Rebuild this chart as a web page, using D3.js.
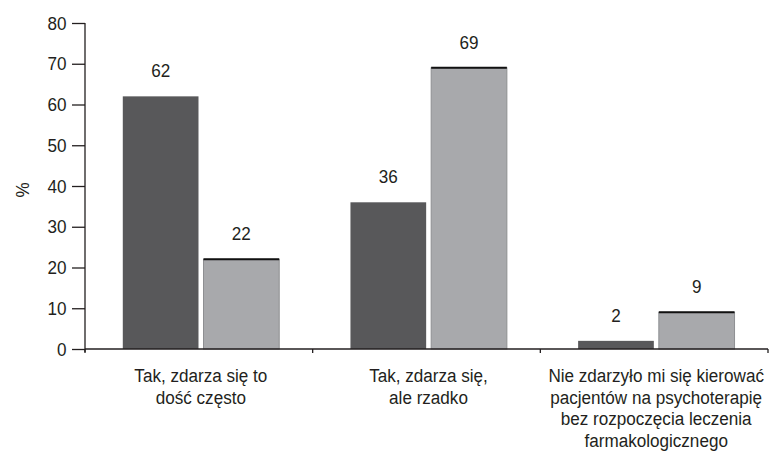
<!DOCTYPE html>
<html>
<head>
<meta charset="utf-8">
<script src="https://cdn.jsdelivr.net/npm/d3@7"></script>
<style>
  body { margin: 0; background: white; }
  svg { display: block; }
  .axis text { font-size: 19px; fill: #231f20; }
  .axis path, .axis line { stroke: #231f20; stroke-width: 1.3; }
</style>
</head>
<body>
<svg id="chart" width="774" height="455"></svg>
<script>
// Categories (x axis), each label split into lines
const categories = [
  ['Tak, zdarza się to', 'dość często'],
  ['Tak, zdarza się,', 'ale rzadko'],
  ['Nie zdarzyło mi się kierować', 'pacjentów na psychoterapię', 'bez rozpoczęcia leczenia', 'farmakologicznego']
];
const seriesDark = [62, 36, 2];
const seriesLight = [22, 69, 9];
const yTicks = [0, 10, 20, 30, 40, 50, 60, 70, 80];
const yLabel = '%';

const padding = { top: 23, right: 6, bottom: 106, left: 85 };
const width = 774 - padding.left - padding.right;
const height = 455 - padding.top - padding.bottom;
const font = "'Liberation Sans', Arial, sans-serif";
const fontSize = 19;
const squeeze = 0.9; // the original face is a little condensed
const ink = '#231f20';

const svg = d3.select('#chart').style('font-family', font);
const canvas = svg.append('g')
  .attr('transform', `translate(${padding.left}, ${padding.top})`);

// place a condensed text at (x, y)
function label(parent, x, y, anchor) {
  return parent.append('text')
    .attr('transform', `translate(${x}, ${y}) scale(${squeeze}, 1)`)
    .attr('text-anchor', anchor || 'middle')
    .style('font-size', fontSize + 'px')
    .attr('fill', ink);
}

const x = d3.scaleBand()
  .domain(d3.range(categories.length))
  .range([0, width]);

const inner = d3.scaleBand()
  .domain(['dark', 'light'])
  .range([x.bandwidth() * 0.166, x.bandwidth() * 0.853])
  .paddingInner(0.062);

const y = d3.scaleLinear().domain([0, 80]).range([height, 0]);

// y axis
const yAxis = canvas.append('g').attr('class', 'axis y')
  .call(d3.axisLeft(y).tickValues(yTicks).tickSize(13).tickFormat(d3.format('d')));
yAxis.select('.domain').attr('d', `M0,${height + 3}V0`);
yAxis.selectAll('.tick text')
  .attr('x', -18.5 / squeeze)
  .attr('transform', `scale(${squeeze}, 1)`);

// bars
const groups = canvas.selectAll('g.group')
  .data(categories.map((c, i) => ({ i, dark: seriesDark[i], light: seriesLight[i] })))
  .join('g')
  .attr('class', 'group')
  .attr('transform', d => `translate(${x(d.i)}, 0)`);

groups.append('rect')
  .attr('x', inner('dark'))
  .attr('width', inner.bandwidth())
  .attr('y', d => y(d.dark))
  .attr('height', d => height - y(d.dark))
  .attr('fill', '#58585a');

groups.append('rect')
  .attr('x', inner('light'))
  .attr('width', inner.bandwidth())
  .attr('y', d => y(d.light))
  .attr('height', d => height - y(d.light))
  .attr('fill', '#a8a9ac')
  .attr('stroke', '#8e8f92')
  .attr('stroke-width', 1);

// dark top edge on light bars
groups.append('line')
  .attr('x1', inner('light'))
  .attr('x2', inner('light') + inner.bandwidth())
  .attr('y1', d => y(d.light))
  .attr('y2', d => y(d.light))
  .attr('stroke', '#111')
  .attr('stroke-width', 2);

// value labels
groups.each(function(d) {
  const g = d3.select(this);
  label(g, inner('dark') + inner.bandwidth() / 2, y(d.dark) - 19).text(d.dark);
  label(g, inner('light') + inner.bandwidth() / 2, y(d.light) - 19).text(d.light);
});

// x axis
const xAxis = canvas.append('g').attr('class', 'axis x')
  .attr('transform', `translate(0, ${height})`);
xAxis.append('line')
  .attr('x1', 0).attr('x2', width);
xAxis.selectAll('line.tick')
  .data(d3.range(categories.length + 1))
  .join('line')
  .attr('class', 'tick')
  .attr('x1', d => d === categories.length ? width : x(d))
  .attr('x2', d => d === categories.length ? width : x(d))
  .attr('y1', 0).attr('y2', 4);

categories.forEach((lines, i) => {
  const t = label(xAxis, x(i) + x.bandwidth() / 2 + 2, 0);
  t.selectAll('tspan')
    .data(lines)
    .join('tspan')
    .attr('x', 0)
    .attr('y', (d, j) => 33 + j * 21.6)
    .text(d => d);
});

// y label
canvas.append('text')
  .attr('transform', `translate(${-56}, ${167}) rotate(-90) scale(${squeeze}, 1)`)
  .attr('text-anchor', 'middle')
  .style('font-size', fontSize + 'px')
  .attr('fill', ink)
  .text(yLabel);
</script>
</body>
</html>
